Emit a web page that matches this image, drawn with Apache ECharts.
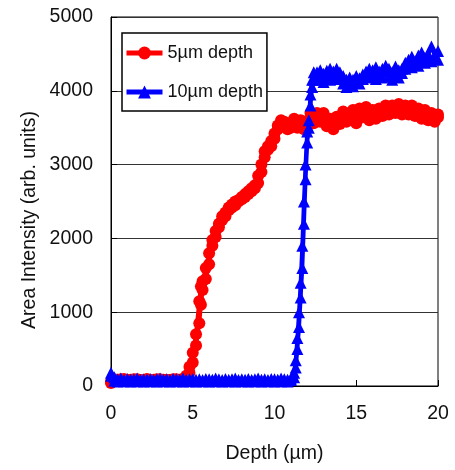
<!DOCTYPE html>
<html><head><meta charset="utf-8">
<script src="https://cdn.jsdelivr.net/npm/echarts@6/dist/echarts.min.js"></script>
<style>html,body{margin:0;padding:0;background:#fff}#c{width:455px;height:470px}</style>
</head><body><div id="c"></div>
<script>
const xTicks = [0, 5, 10, 15, 20];
const yTicks = [0, 1000, 2000, 3000, 4000, 5000];
const seriesNames = ['5µm depth', '10µm depth'];
const xTitle = 'Depth (µm)';
const yTitle = 'Area Intensity (arb. units)';

const redX = [0,0.2,0.4,0.6,0.8,1.0,1.2,1.4,1.6,1.8,2.0,2.2,2.4,2.6,2.8,3.0,3.2,3.4,3.6,3.8,4.0,4.2,4.4,4.6,4.8,5.0,5.2,5.4,5.5,5.6,5.8,6.0,6.2,6.4,6.6,6.8,7.0,7.2,7.4,7.6,7.8,8.0,8.2,8.4,8.6,8.8,9.0,9.2,9.4,9.6,9.8,10.0,10.2,10.4,10.6,10.8,11.0,11.2,11.4,11.6,11.8,12.0,12.2,12.4,12.6,12.8,13.0,13.2,13.4,13.6,13.8,14.0,14.2,14.4,14.6,14.8,15.0,15.2,15.4,15.6,15.8,16.0,16.2,16.4,16.6,16.8,17.0,17.2,17.4,17.6,17.8,18.0,18.2,18.4,18.6,18.8,19.0,19.2,19.4,19.6,19.8,20.0];
// scan 1 and scan 2 of the 5µm depth profile
const redY = [40,80,70,90,80,70,85,75,90,80,70,85,80,75,90,80,85,75,80,90,85,80,90,110,180,320,550,850,1100,1300,1450,1650,1900,2020,2150,2250,2300,2380,2420,2450,2500,2530,2560,2600,2640,2680,2750,2900,3100,3200,3250,3350,3480,3560,3580,3560,3540,3560,3580,3540,3560,3590,3620,3640,3600,3660,3620,3590,3560,3540,3580,3620,3650,3640,3680,3650,3620,3680,3720,3700,3660,3680,3700,3680,3720,3740,3760,3740,3760,3780,3750,3720,3760,3740,3720,3700,3680,3700,3660,3640,3650,3640];
const redY2 = [60,90,75,85,95,80,70,90,85,75,80,95,70,85,80,90,75,85,80,75,90,85,95,140,260,450,700,1150,1350,1420,1600,1800,1980,2100,2200,2300,2350,2420,2460,2500,2520,2560,2600,2640,2680,2720,2850,3000,3180,3250,3320,3420,3530,3600,3520,3480,3500,3620,3500,3600,3480,3520,3700,3560,3700,3580,3700,3520,3620,3480,3650,3550,3720,3580,3620,3740,3560,3760,3640,3780,3600,3740,3620,3760,3660,3800,3680,3800,3700,3820,3680,3800,3680,3800,3660,3760,3620,3740,3600,3700,3580,3680];

const blueX = [0,0.2,0.4,0.6,0.8,1.0,1.2,1.4,1.6,1.8,2.0,2.2,2.4,2.6,2.8,3.0,3.2,3.4,3.6,3.8,4.0,4.2,4.4,4.6,4.8,5.0,5.2,5.4,5.6,5.8,6.0,6.2,6.4,6.6,6.8,7.0,7.2,7.4,7.6,7.8,8.0,8.2,8.4,8.6,8.8,9.0,9.2,9.4,9.6,9.8,10.0,10.2,10.4,10.6,10.8,11.0,11.2,11.3,11.4,11.5,11.6,11.7,11.8,11.9,12.0,12.1,12.2,12.3,12.4,12.6,12.8,13.0,13.2,13.4,13.6,13.8,14.0,14.2,14.4,14.6,14.8,15.0,15.2,15.4,15.6,15.8,16.0,16.2,16.4,16.6,16.8,17.0,17.2,17.4,17.6,17.8,18.0,18.2,18.4,18.6,18.8,19.0,19.2,19.4,19.6,19.8,20.0];
// scan 1 and scan 2 of the 10µm depth profile
const blueY = [180,120,90,100,80,95,85,90,100,80,90,85,95,80,90,100,85,90,80,95,90,85,100,80,90,95,85,90,80,95,90,85,100,90,80,95,85,90,100,80,90,85,95,80,90,100,85,90,80,95,90,85,100,90,85,100,180,350,650,1000,1400,1900,2500,3000,3450,3600,3950,4150,4250,4250,4280,4230,4270,4300,4260,4300,4250,4200,4150,4180,4150,4200,4170,4220,4260,4300,4280,4320,4260,4300,4340,4300,4250,4330,4280,4300,4380,4420,4460,4400,4480,4520,4450,4500,4600,4480,4540];
const blueY2 = [140,70,60,75,65,70,60,75,65,70,60,75,65,70,60,75,65,70,60,75,65,70,60,75,65,70,60,75,65,70,60,75,65,70,60,75,65,70,60,75,65,70,60,75,65,70,60,75,65,70,60,75,65,70,60,80,120,250,500,800,1200,1600,2200,2800,3300,3500,3800,4050,4150,4150,4200,4120,4180,4150,4220,4160,4200,4100,4050,4120,4060,4140,4100,4160,4200,4180,4240,4160,4220,4180,4260,4200,4150,4220,4180,4240,4300,4350,4320,4380,4340,4420,4380,4440,4400,4460,4420];

const zip = (xs, ys) => xs.map((x, i) => [x, ys[i]]);
const font = 'Liberation Sans, Arial, sans-serif';

function redSeries(ys) {
  return {
    name: seriesNames[0], type: 'line', data: zip(redX, ys), clip: false,
    symbol: 'circle', symbolSize: 12,
    itemStyle: {color: '#ff0000'},
    lineStyle: {color: '#ff0000', width: 4}
  };
}
function blueSeries(ys) {
  return {
    name: seriesNames[1], type: 'line', data: zip(blueX, ys), clip: false,
    symbol: 'triangle', symbolSize: 12,
    itemStyle: {color: '#0000ff'},
    lineStyle: {color: '#0000ff', width: 4}
  };
}

const chart = echarts.init(document.getElementById('c'), null, {renderer: 'canvas'});
chart.setOption({
  animation: false,
  backgroundColor: '#fff',
  grid: {left: 111, right: 17, top: 17, bottom: 84, show: true, borderColor: '#000', borderWidth: 1, backgroundColor: 'transparent'},
  legend: {
    orient: 'vertical', left: 122, top: 33,
    backgroundColor: '#fff', borderColor: '#000', borderWidth: 1.5,
    padding: [11, 4, 10, 2], itemGap: 21, itemWidth: 36, itemHeight: 16,
    lineStyle: {width: 5},
    textStyle: {fontFamily: font, fontSize: 18, color: '#111'},
    data: seriesNames
  },
  graphic: [{
    type: 'text', x: 30, y: 220, rotation: Math.PI / 2,
    style: {text: yTitle, font: '19.5px ' + font, fill: '#111', textAlign: 'center', textVerticalAlign: 'middle'}
  }],
  xAxis: {
    type: 'value', min: xTicks[0], max: xTicks[xTicks.length - 1], interval: 5,
    name: xTitle, nameLocation: 'middle', nameGap: 58,
    nameTextStyle: {fontFamily: font, fontSize: 19.5, color: '#111'},
    axisLine: {show: true, lineStyle: {color: '#000', width: 1}},
    axisTick: {show: true, inside: true, length: 6, lineStyle: {color: '#000'}},
    axisLabel: {fontFamily: font, fontSize: 19.5, color: '#111', margin: 18, formatter: v => String(v)},
    splitLine: {show: false}
  },
  yAxis: {
    type: 'value', min: yTicks[0], max: yTicks[yTicks.length - 1], interval: 1000,
    axisLine: {show: true, lineStyle: {color: '#000', width: 1}},
    axisTick: {show: true, inside: true, length: 6, lineStyle: {color: '#000'}},
    axisLabel: {fontFamily: font, fontSize: 19.5, color: '#111', margin: 18, formatter: v => String(v)},
    splitLine: {show: true, lineStyle: {color: '#333', width: 1}}
  },
  series: [redSeries(redY), redSeries(redY2), blueSeries(blueY), blueSeries(blueY2)]
});
</script></body></html>
